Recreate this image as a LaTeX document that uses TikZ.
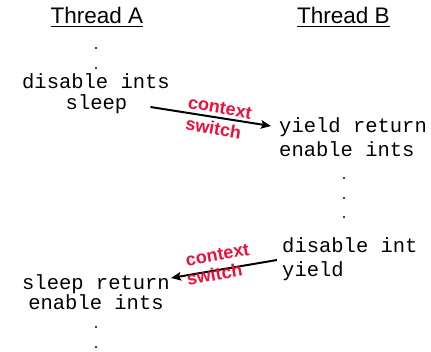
\documentclass[tikz,border=0pt]{standalone}
\usepackage{fontspec}
\setmainfont{Liberation Sans}
\newfontfamily\codefont{Liberation Mono}
\newfontfamily\ctxfont{Liberation Sans}[UprightFont=* Bold]
\usetikzlibrary{arrows.meta}
\definecolor{switchred}{RGB}{238,16,58}
\tikzset{
  code/.style={font=\codefont\fontsize{20.5}{24}\selectfont, inner sep=0pt, anchor=base west},
  codec/.style={code, anchor=base},
  dotmark/.style={circle, fill=black, inner sep=0pt, minimum size=2.4pt},
  header/.style={font=\fontsize{22.5}{26}\selectfont, inner sep=0pt, anchor=base},
  ctx/.style={font=\ctxfont\fontsize{18}{20}\selectfont, text=switchred, inner sep=0pt},
  switcharrow/.style={line width=2pt, -{Stealth[length=10pt,width=8.5pt,inset=2pt]}},
}
\begin{document}
\begin{tikzpicture}[x=1pt,y=-1pt]
\useasboundingbox (0,0) rectangle (431,352);

% column headings
\node[header] (ta) at (97,24) {Thread A};
\node[header] (tb) at (343.5,24) {Thread B};
\draw[line width=1pt] ([yshift=-2.3pt]ta.base west) -- ([yshift=-2.3pt]ta.base east);
\draw[line width=1pt] ([yshift=-2.3pt]tb.base west) -- ([yshift=-2.3pt]tb.base east);

% Thread A, before the switch
\node[dotmark] (a1) at (96,48) {};
\node[dotmark] (a2) at (96,68) {};
\node[codec] (dis) at (96,89) {disable ints};
\node[codec] (slp) at (96.5,110) {sleep};

% Thread B, after the first switch
\node[code] (yr) at (279,133) {yield return};
\node[code] (en) at (279,157) {enable ints};
\node[dotmark] (b1) at (344,178) {};
\node[dotmark] (b2) at (344,198) {};
\node[dotmark] (b3) at (344,217) {};

% Thread B, before the second switch
\node[code] (dint) at (282,253) {disable int};
\node[code] (yld) at (282,277) {yield};

% Thread A, after the second switch
\node[codec] (sr) at (96,290) {sleep return};
\node[codec] (en2) at (96,310) {enable ints};
\node[dotmark] (c1) at (96,327) {};
\node[dotmark] (c2) at (96,347) {};

% context switches (shifts in pt point up the page)
\draw[switcharrow] ([shift={(23pt,3pt)}]slp.base east) -- ([shift={(-8pt,7pt)}]yr.base west);
\node[ctx, rotate=-10] (cx1) at (220,108) {context};
\node[ctx, rotate=-10] (sw1) at (213.5,128) {switch};

\draw[switcharrow] ([shift={(-5pt,-7pt)}]dint.base west) -- ([shift={(1pt,12pt)}]sr.base east);
\node[ctx, rotate=10] (cx2) at (217.5,255) {context};
\node[ctx, rotate=10] (sw2) at (214.5,274) {switch};
\end{tikzpicture}
\end{document}
